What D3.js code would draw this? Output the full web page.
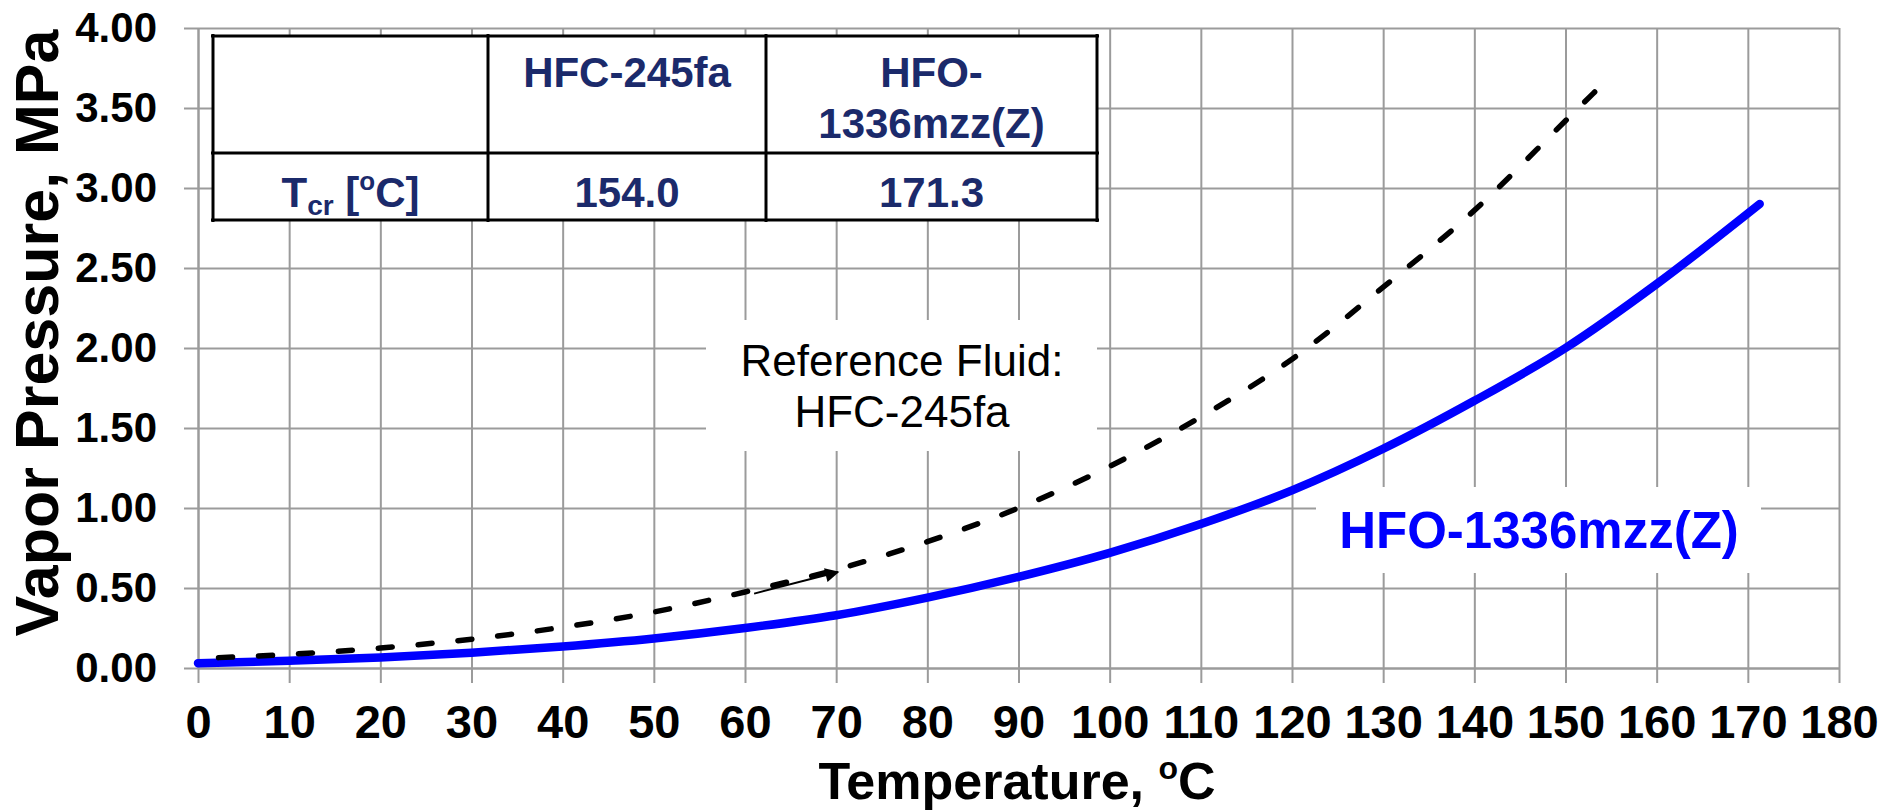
<!DOCTYPE html>
<html>
<head>
<meta charset="utf-8">
<script src="https://cdn.jsdelivr.net/npm/d3@7"></script>
<style>
body { margin: 0; background: #fff; }
svg { display: block; font-family: "Liberation Sans", Arial, Helvetica, sans-serif; }
</style>
</head>
<body>
<svg id="chart" width="1888" height="811"></svg>
<script>
// vapor pressure curves (T in degC, P in MPa)
var tempRef = [0, 10, 20, 30, 40, 50, 60, 70, 80, 90, 100, 110, 120, 130, 140, 150, 153.2];
var presRef = [0.06, 0.085, 0.125, 0.18, 0.255, 0.35, 0.475, 0.615, 0.79, 1.0, 1.26, 1.57, 1.93, 2.38, 2.86, 3.42, 3.60];

var tempHfo = [0, 10, 20, 30, 40, 50, 60, 70, 80, 90, 100, 110, 120, 130, 140, 150, 160, 171.3];
var presHfo = [0.03, 0.045, 0.065, 0.095, 0.135, 0.185, 0.25, 0.33, 0.44, 0.57, 0.72, 0.90, 1.11, 1.37, 1.67, 2.00, 2.40, 2.90];

var xTicks = d3.range(0, 181, 10);
var yTicks = [0, 0.5, 1.0, 1.5, 2.0, 2.5, 3.0, 3.5, 4.0];

var fluids = ["HFC-245fa", "HFO-1336mzz(Z)"];
var critTemps = ["154.0", "171.3"];

// little arrow drawn along the dashed curve
var arrowT = [61, 70.2];
var arrowP = [0.465, 0.60];

var plotL = 198, plotR = 1839, plotT = 28, plotB = 668;

var svg = d3.select("#chart");

var x = d3.scaleLinear().domain([0, 180]).range([plotL, plotR]);
var y = d3.scaleLinear().domain([0, 4]).range([plotB, plotT]);

var gridColor = "#9b9b9b";
var navy = "#1b2a6b";

// grid
svg.append("g")
	.attr("transform", "translate(0," + plotB + ")")
	.call(d3.axisBottom(x).tickValues(xTicks).tickSize(-(plotB - plotT)).tickFormat(""))
	.call(function(g) { g.select(".domain").remove(); })
	.selectAll("line").attr("stroke", gridColor).attr("stroke-width", 2);

svg.append("g")
	.attr("transform", "translate(" + plotL + ",0)")
	.call(d3.axisLeft(y).tickValues(yTicks).tickSize(-(plotR - plotL)).tickFormat(""))
	.call(function(g) { g.select(".domain").remove(); })
	.selectAll("line").attr("stroke", gridColor).attr("stroke-width", 2);

// axes with outside ticks
var xAxis = svg.append("g")
	.attr("transform", "translate(0," + plotB + ")")
	.call(d3.axisBottom(x).tickValues(xTicks).tickSize(15).tickSizeOuter(0).tickPadding(22).tickFormat(d3.format("d")));
var yAxis = svg.append("g")
	.attr("transform", "translate(" + plotL + ",0)")
	.call(d3.axisLeft(y).tickValues(yTicks).tickSize(14).tickSizeOuter(0).tickPadding(27).tickFormat(d3.format(".2f")));

[xAxis, yAxis].forEach(function(g) {
	g.select(".domain").attr("stroke", gridColor).attr("stroke-width", 2);
	g.selectAll(".tick line").attr("stroke", gridColor).attr("stroke-width", 2);
	g.selectAll(".tick text")
		.attr("fill", "#000")
		.attr("font-family", "'Liberation Sans', Arial, sans-serif")
		.attr("font-size", 42)
		.attr("font-weight", "bold");
});
// x tick labels are condensed in the original
xAxis.selectAll(".tick text")
	.attr("font-family", "'Liberation Sans Narrow', 'Arial Narrow', 'Liberation Sans', sans-serif")
	.attr("font-size", 47);

// axis titles
var xt = svg.append("text")
	.attr("x", 1017).attr("y", 799)
	.attr("text-anchor", "middle")
	.attr("font-size", 52).attr("font-weight", "bold");
xt.append("tspan").text("Temperature, ");
xt.append("tspan").attr("font-size", 32).attr("dy", -20).text("o");
xt.append("tspan").attr("dy", 20).text("C");

svg.append("text")
	.attr("transform", "translate(58,333) rotate(-90)")
	.attr("text-anchor", "middle")
	.attr("font-size", 61).attr("font-weight", "bold")
	.text("Vapor Pressure, MPa");

// curves
var line = d3.line()
	.x(function(d) { return x(d[0]); })
	.y(function(d) { return y(d[1]); })
	.curve(d3.curveMonotoneX);

svg.append("path")
	.datum(d3.zip(tempHfo, presHfo))
	.attr("d", line)
	.attr("fill", "none")
	.attr("stroke", "#0000ff")
	.attr("stroke-width", 8.5)
	.attr("stroke-linecap", "round");

var dash = 14, gap = 26;
var refPath = svg.append("path")
	.datum(d3.zip(tempRef, presRef))
	.attr("d", line)
	.attr("fill", "none")
	.attr("stroke", "#000")
	.attr("stroke-width", 5.5)
	.attr("stroke-dasharray", dash + "," + gap)
	.attr("stroke-linecap", "round");
// shift the pattern so the curve finishes on a dash, as in the original
var len = refPath.node().getTotalLength();
refPath.attr("stroke-dashoffset", (((dash - len) % (dash + gap)) + dash + gap) % (dash + gap));

// arrow
svg.append("defs").append("marker")
	.attr("id", "arrowHead")
	.attr("viewBox", "0 0 10 10")
	.attr("refX", 9).attr("refY", 5)
	.attr("markerWidth", 7.5).attr("markerHeight", 7)
	.attr("markerUnits", "strokeWidth")
	.attr("orient", "auto")
	.append("path").attr("d", "M0,0L10,5L0,10Z").attr("fill", "#000");

svg.append("line")
	.attr("x1", x(arrowT[0])).attr("y1", y(arrowP[0]))
	.attr("x2", x(arrowT[1])).attr("y2", y(arrowP[1]))
	.attr("stroke", "#000").attr("stroke-width", 2)
	.attr("marker-end", "url(#arrowHead)");

// annotation: reference fluid
svg.append("rect")
	.attr("x", 706).attr("y", 320).attr("width", 391).attr("height", 131)
	.attr("fill", "#fff");
svg.append("text")
	.attr("x", 902).attr("y", 376)
	.attr("text-anchor", "middle").attr("font-size", 44)
	.text("Reference Fluid:");
svg.append("text")
	.attr("x", 902).attr("y", 427)
	.attr("text-anchor", "middle").attr("font-size", 44)
	.text(fluids[0]);

// annotation: blue curve label
svg.append("rect")
	.attr("x", 1316).attr("y", 487).attr("width", 445).attr("height", 86)
	.attr("fill", "#fff");
svg.append("text")
	.attr("x", 1539).attr("y", 548)
	.attr("text-anchor", "middle").attr("font-size", 51).attr("font-weight", "bold")
	.attr("fill", "#0000ff")
	.text(fluids[1]);

// table of critical temperatures
var colX = [213, 488, 766, 1097];
var rowY = [36, 153, 220];
var tbl = svg.append("g");

tbl.append("rect")
	.attr("x", colX[0]).attr("y", rowY[0])
	.attr("width", colX[3] - colX[0]).attr("height", rowY[2] - rowY[0])
	.attr("fill", "#fff");

colX.forEach(function(cx) {
	tbl.append("line").attr("x1", cx).attr("x2", cx).attr("y1", rowY[0] - 2).attr("y2", rowY[2] + 2);
});
rowY.forEach(function(ry) {
	tbl.append("line").attr("x1", colX[0] - 2).attr("x2", colX[3] + 2).attr("y1", ry).attr("y2", ry);
});
tbl.selectAll("line").attr("stroke", "#000").attr("stroke-width", 3);

var colMid = function(i) { return (colX[i] + colX[i + 1]) / 2; };

var tt = tbl.append("g").attr("fill", navy).attr("font-size", 42).attr("font-weight", "bold").attr("text-anchor", "middle");

tt.append("text").attr("x", colMid(1)).attr("y", 87).text(fluids[0]);
tt.append("text").attr("x", colMid(2)).attr("y", 87).text(fluids[1].split("-")[0] + "-");
tt.append("text").attr("x", colMid(2)).attr("y", 138).text(fluids[1].split("-")[1]);

var tcr = tt.append("text").attr("x", colMid(0)).attr("y", 207);
tcr.append("tspan").text("T");
tcr.append("tspan").attr("font-size", 28).attr("dy", 8).text("cr");
tcr.append("tspan").attr("dy", -8).text(" [");
tcr.append("tspan").attr("font-size", 26).attr("dy", -17).text("o");
tcr.append("tspan").attr("dy", 17).text("C]");

critTemps.forEach(function(v, i) {
	tt.append("text").attr("x", colMid(i + 1)).attr("y", 207).text(v);
});
</script>
</body>
</html>
